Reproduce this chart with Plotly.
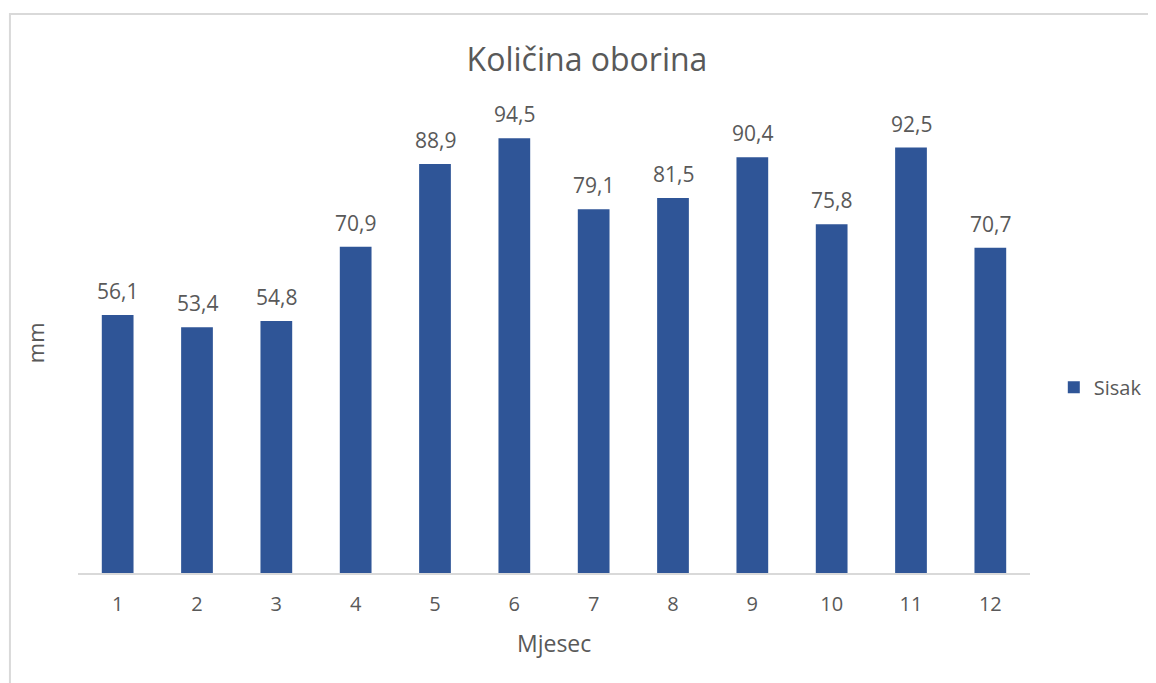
import plotly.graph_objects as go

# monthly precipitation, Sisak
months = ['1', '2', '3', '4', '5', '6', '7', '8', '9', '10', '11', '12']
precip = [56.1, 53.4, 54.8, 70.9, 88.9, 94.5, 79.1, 81.5, 90.4, 75.8, 92.5, 70.7]
labels = [f'{v:.1f}'.replace('.', ',') for v in precip]

font_family = 'Open Sans, Segoe UI, sans-serif'
grey_text = '#595959'

fig = go.Figure()
fig.add_trace(go.Bar(x = months,
                     y = precip,
                     name = 'Sisak',
                     marker = {'color': '#2F5597', 'line': {'width': 0}},
                     showlegend = True))

# data labels above the bars (category axis -> position by index)
annotations = [dict(x = i, y = v, text = t,
                    xref = 'x', yref = 'y',
                    yanchor = 'bottom', yshift = 8,
                    showarrow = False,
                    font = {'size': 21, 'color': grey_text, 'family': font_family})
               for i, (v, t) in enumerate(zip(precip, labels))]

# axis titles
annotations.append(dict(x = -0.045, y = 0.5, xref = 'paper', yref = 'paper',
                        xanchor = 'center', yanchor = 'middle',
                        text = 'mm', textangle = -90, showarrow = False,
                        font = {'size': 22, 'color': grey_text, 'family': font_family}))
annotations.append(dict(x = 0.5, y = -0.152, xref = 'paper', yref = 'paper',
                        xanchor = 'center', yanchor = 'middle',
                        text = 'Mjesec', showarrow = False,
                        font = {'size': 23, 'color': grey_text, 'family': font_family}))

# page body has an 8px margin, so offsets below are shifted by 8px
fig.update_layout(width = 1156,
                  height = 683,
                  paper_bgcolor = 'white',
                  plot_bgcolor = 'white',
                  bargap = 0.6,
                  title = {'text': 'Količina oborina',
                           'x': 579 / 1156, 'xanchor': 'center',
                           'y': 1 - 52 / 683, 'yanchor': 'middle',
                           'xref': 'container', 'yref': 'container',
                           'font': {'size': 32, 'color': grey_text, 'family': font_family}},
                  margin = {
                        'l': 70,
                        'r': 134,
                        't': 105,
                        'b': 118,
                        'autoexpand': False
                    },
                  legend = {'x': 1.025, 'y': 0.404, 'xanchor': 'left', 'yanchor': 'middle',
                            'font': {'size': 20, 'color': grey_text, 'family': font_family},
                            'itemwidth': 30},
                  annotations = annotations,
                  shapes = [dict(type = 'rect', xref = 'paper', yref = 'paper',
                                 x0 = -0.0715, x1 = 1.2, y0 = -0.3, y1 = 1.215,
                                 line = {'color': '#d9d9d9', 'width': 2},
                                 layer = 'below')])

fig.update_xaxes(type = 'category', showline = True, linecolor = '#d9d9d9', linewidth = 2,
                 ticks = 'outside', ticklen = 12, tickcolor = 'rgba(0,0,0,0)', showgrid = False,
                 tickfont = {'size': 20, 'color': grey_text, 'family': font_family})
fig.update_yaxes(range = [0, 100], visible = False, showgrid = False)

fig.write_html("out.html")
